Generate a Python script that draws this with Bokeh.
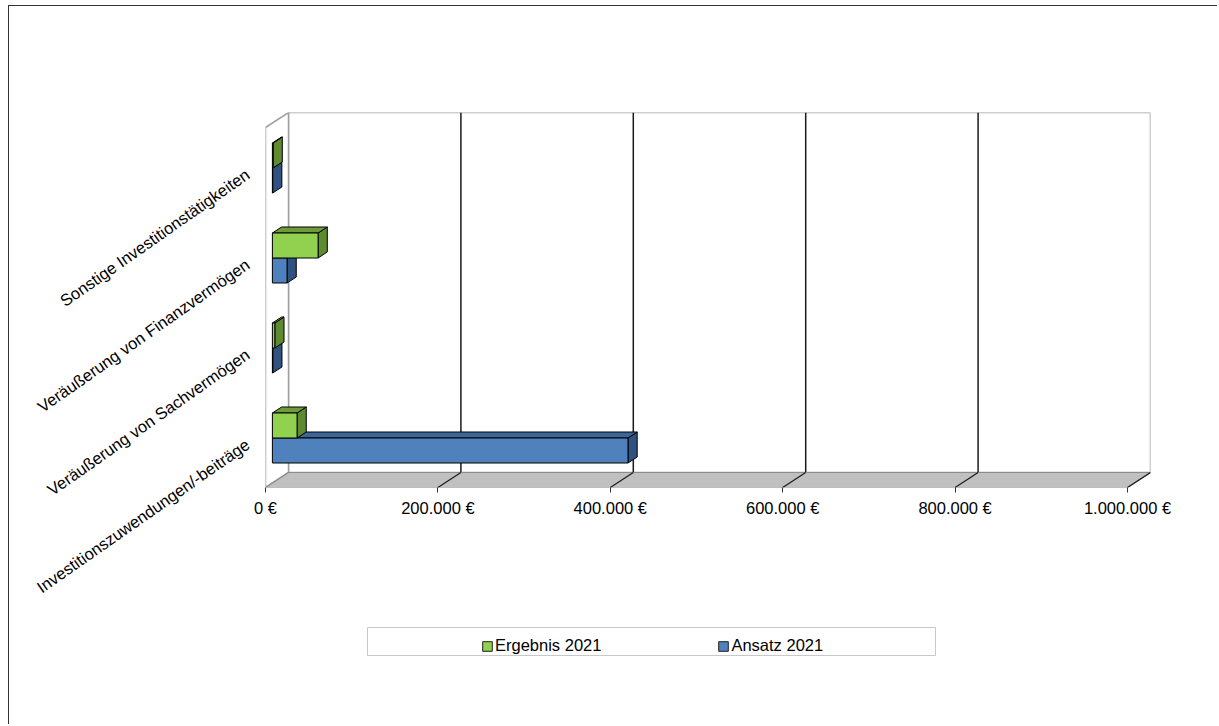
import math
from bokeh.plotting import figure
from bokeh.models import FixedTicker, Legend, LegendItem, Spacer
from bokeh.layouts import column, row
from bokeh.embed import file_html
from bokeh.resources import INLINE

# ---------------- data ----------------
categories = [
    "Investitionszuwendungen/-beiträge",
    "Veräußerung von Sachvermögen",
    "Veräußerung von Finanzvermögen",
    "Sonstige Investitionstätigkeiten",
]
series_names = ["Ergebnis 2021", "Ansatz 2021"]
ergebnis_2021 = [28600, 2800, 53000, 800]
ansatz_2021 = [412500, 400, 17000, 300]
x_ticks = [0, 200000, 400000, 600000, 800000, 1000000]
x_tick_labels = ["0 €", "200.000 €", "400.000 €", "600.000 €", "800.000 €", "1.000.000 €"]

# ---------------- style / geometry ----------------
FONT = "Liberation Sans"
FS = "16.5px"
GREEN = ("#92D050", "#6E9C3A", "#5E8A30")   # front, top, side
BLUE = ("#4F81BD", "#3C6699", "#2F5282")

FRAME_W, FRAME_H = 885, 375
PX_PER_X = 862 / x_ticks[-1]
DEPTH_PX_X, DEPTH_PX_Y = 23, 15
N = len(categories)
X_MAX = x_ticks[-1]
x_end = FRAME_W / PX_PER_X
DX = DEPTH_PX_X / PX_PER_X
UNIT_Y = (FRAME_H - DEPTH_PX_Y) / N
DY = DEPTH_PX_Y / UNIT_Y
y_end = N + DY
Z0, Z1 = 0.30, 0.70          # bar depth range (fraction of depth)
BAR_H = 25 / UNIT_Y

p = figure(width=1208, height=620, x_range=(0, x_end), y_range=(0, y_end),
           min_border_left=256, min_border_right=1208 - 256 - FRAME_W, min_border_top=106,
           min_border_bottom=620 - 106 - FRAME_H, output_backend="svg", toolbar_location=None)
p.outline_line_color = None
p.grid.visible = False
p.background_fill_color = "white"
p.border_fill_color = "white"

WALL_LINE = "#a0a0a0"
# back wall
p.quad(left=[DX], right=[X_MAX + DX], bottom=[DY], top=[N + DY],
       fill_color="white", line_color=WALL_LINE, line_width=1.5)
# left wall
p.patch([0, DX, DX, 0], [0, DY, N + DY, N], fill_color="white",
        line_color=WALL_LINE, line_width=1.5)
# grid lines on back wall
gx = [v + DX for v in x_ticks[1:-1]]
p.segment(x0=gx, y0=[DY] * len(gx), x1=gx, y1=[N + DY] * len(gx),
          line_color="#1a1a1a", line_width=1.5)
# floor
p.patch([0, X_MAX, X_MAX + DX, DX], [0, 0, DY, DY], fill_color="#c0c0c0",
        line_color="#8c8c8c", line_width=1.2)
fx = x_ticks[1:]
p.segment(x0=fx, y0=[0] * len(fx), x1=[v + DX for v in fx], y1=[DY] * len(fx),
          line_color="#1a1a1a", line_width=1.2)


def bar_faces(v, yb, yt, cols):
    dx0, dx1 = Z0 * DX, Z1 * DX
    dy0, dy1 = Z0 * DY, Z1 * DY
    xs, ys, cs = [], [], []
    # side
    xs.append([v + dx0, v + dx1, v + dx1, v + dx0])
    ys.append([yb + dy0, yb + dy1, yt + dy1, yt + dy0])
    cs.append(cols[2])
    # top
    xs.append([dx0, v + dx0, v + dx1, dx1])
    ys.append([yt + dy0, yt + dy0, yt + dy1, yt + dy1])
    cs.append(cols[1])
    # front
    xs.append([dx0, v + dx0, v + dx0, dx0])
    ys.append([yb + dy0, yb + dy0, yt + dy0, yt + dy0])
    cs.append(cols[0])
    return xs, ys, cs


for vals, cols, upper in ((ansatz_2021, BLUE, False), (ergebnis_2021, GREEN, True)):
    XS, YS, CS = [], [], []
    for i, v in enumerate(vals):
        c = i + 0.5
        yb, yt = (c, c + BAR_H) if upper else (c - BAR_H, c)
        xs, ys, cs = bar_faces(v, yb, yt, cols)
        XS += xs; YS += ys; CS += cs
    p.patches(xs=XS, ys=YS, fill_color=CS, line_color="#000000", line_width=1)

# x axis
xa = p.xaxis[0]
xa.ticker = FixedTicker(ticks=x_ticks)
xa.major_label_overrides = {t: l for t, l in zip(x_ticks, x_tick_labels)}
xa.axis_line_color = None
xa.major_tick_in = 0
xa.major_tick_out = 5
xa.major_tick_line_color = "#333333"
xa.minor_tick_line_color = None
xa.major_label_standoff = 6
xa.major_label_text_font = FONT
xa.major_label_text_font_size = FS
xa.major_label_text_color = "#000000"

# y axis (categories)
ya = p.yaxis[0]
ya.ticker = FixedTicker(ticks=[i + 0.5 for i in range(N)])
ya.major_label_overrides = {i + 0.5: categories[i] for i in range(N)}
ya.axis_line_color = None
ya.major_tick_line_color = None
ya.minor_tick_line_color = None
ya.major_tick_out = 0
ya.major_tick_in = 0
ya.major_label_standoff = 18
ya.major_label_orientation = math.radians(35)
ya.major_label_text_font = FONT
ya.major_label_text_font_size = FS
ya.major_label_text_color = "#000000"

# ---------------- legend figure ----------------
lp = figure(width=570, height=30, x_range=(0, 1), y_range=(0, 1), min_border=1,
            x_axis_location=None, y_axis_location=None,
            output_backend="svg", toolbar_location=None)
lp.grid.visible = False
lp.outline_line_color = "#c8c8c8"
lp.outline_line_width = 1
rg = lp.quad(left=[-3], right=[-2], bottom=[-3], top=[-2], fill_color=GREEN[0], line_color="#222222")
rb = lp.quad(left=[-3], right=[-2], bottom=[-3], top=[-2], fill_color=BLUE[0], line_color="#222222")
legend = Legend(items=[LegendItem(label=series_names[0], renderers=[rg]),
                       LegendItem(label=series_names[1], renderers=[rb])],
                orientation="horizontal", location=(114, 0),
                glyph_width=12, glyph_height=12, label_standoff=2, spacing=116,
                padding=4, margin=0, border_line_color=None, background_fill_alpha=0,
                label_text_font=FONT, label_text_font_size=FS, label_text_color="#000000")
lp.add_layout(legend)

layout = column(p, row(Spacer(width=357), lp), Spacer(width=10, height=68),
                styles={"margin-left": "8px", "margin-top": "5px",
                        "border-top": "1px solid #333333", "border-left": "1px solid #333333"})

open("out.html", "w").write(file_html(layout, INLINE))
